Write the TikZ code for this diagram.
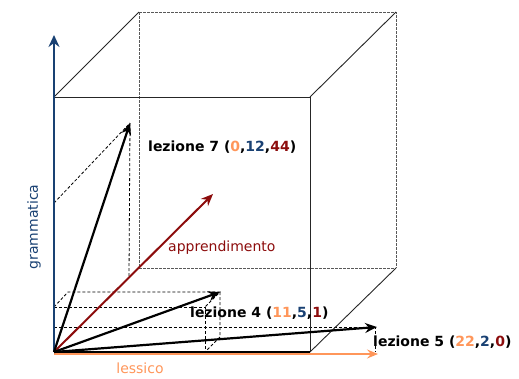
\documentclass[tikz,border=0pt]{standalone}
\usepackage{fontspec}
\setmainfont{DejaVu Sans}
\usetikzlibrary{positioning, arrows.meta, calc}
\definecolor{lessorange}{RGB}{255,150,90}
\definecolor{grammblue}{RGB}{25,65,115}
\definecolor{apprred}{RGB}{140,12,12}
\tikzset{
  % --- cube (front face solid, back face hidden) ---
  cubeedge/.style={line width=0.9pt, black!85},
  cubehidden/.style={line width=0.9pt, black!65, dash pattern=on 2.5pt off 1.5pt},
  % --- component boxes of each lesson vector ---
  proj/.style={line width=0.8pt, black, dash pattern=on 3pt off 2pt},
  % --- axes and vectors ---
  axisgramm/.style={-{Stealth[length=12pt, width=11pt, inset=4pt]}, line width=2pt, grammblue},
  axisless/.style={-{Stealth[length=11pt, width=9pt, inset=4pt]}, line width=2pt, lessorange},
  lezvec/.style={-{Stealth[length=12pt, width=10pt, inset=4pt]}, line width=2.2pt, black},
  apprvec/.style={-{Stealth[length=12pt, width=10pt, inset=4pt]}, line width=2pt, apprred},
  % --- labels ---
  lezlabel/.style={anchor=west, inner sep=0pt, font=\fontsize{14}{16}\selectfont\bfseries},
  axislabel/.style={inner sep=0pt, font=\fontsize{14}{16}\selectfont},
}
\newcommand{\lx}[1]{\textcolor{lessorange}{#1}}
\newcommand{\gy}[1]{\textcolor{grammblue}{#1}}
\newcommand{\az}[1]{\textcolor{apprred}{#1}}

\begin{document}
\begin{tikzpicture}[x=1pt, y=-1pt]
    \useasboundingbox (0,0) rectangle (519,378);

    % ---- Cube corners ----
    \coordinate (O)  at (54,352);
    \coordinate (f1) at (54,97);
    \coordinate (f2) at (310,97);
    \coordinate (f3) at (310,352);
    \coordinate (b0) at (139,268);
    \coordinate (b1) at (139,12);
    \coordinate (b2) at (396,12);
    \coordinate (b3) at (396,268);

    % ---- Vector tips ----
    \coordinate (t7) at (130,123);
    \coordinate (t4) at (220,292);
    \coordinate (t5) at (377,327);
    \coordinate (ta) at (213,194);

    % ---- Hidden back edges ----
    \draw[cubehidden] (b1) -- (b0) -- (b3);
    \draw[cubehidden] (b1) -- (b2) -- (b3);

    % ---- Component boxes ----
    % lezione 7 (0,12,44)
    \draw[proj] (54,203) -- (t7);
    \draw[proj] (t7) -- (129,277);
    % lezione 4 (11,5,1)
    \draw[proj] (54,307) -- (205,307) -- (205,352);
    \draw[proj] (54,307) -- (68,292) -- (t4) -- (205,307);
    \draw[proj] (t4) -- (220,337) -- (205,352);
    % lezione 5 (22,2,0)
    \draw[proj] (O |- t5) -- (375,327) -- (375,352);

    % ---- Front face and visible edges ----
    \draw[cubeedge] (f1) -- (f2) -- (f3);
    \draw[cubeedge] (f1) -- (b1);
    \draw[cubeedge] (f2) -- (b2);
    \draw[cubeedge] (f3) -- (b3);

    % ---- Axes ----
    \coordinate (gtop) at (54,35);
    \coordinate (lend) at (378,354);
    \draw[axisless] (54,354) -- (lend);
    \draw[axisgramm] (O) -- (gtop);
    \draw[cubeedge, line width=1.2pt, black] (O) -- (f3);

    % ---- Vectors ----
    \draw[apprvec] (O) -- (ta);
    \draw[lezvec] (O) -- (t7);
    \draw[lezvec] (O) -- (t4);
    \draw[lezvec] (O) -- (t5);

    % ---- Labels ----
    \node[lezlabel] (lab7) at ($(t7)+(18,24)$) {lezione 7 (\lx{0},\gy{12},\az{44})};
    \node[lezlabel] (lab4) at (190,313) {lezione 4 (\lx{11},\gy{5},\az{1})};
    \node[lezlabel] (lab5) at (373,342) {lezione 5 (\lx{22},\gy{2},\az{0})};
    \node[axislabel, anchor=west, text=apprred] (labappr) at (168,248) {apprendimento};
    \node[axislabel, text=lessorange] (labless) at (140,368) {lessico};
    \node[axislabel, text=grammblue, rotate=90] (labgramm) at (34,227) {grammatica};
\end{tikzpicture}
\end{document}
